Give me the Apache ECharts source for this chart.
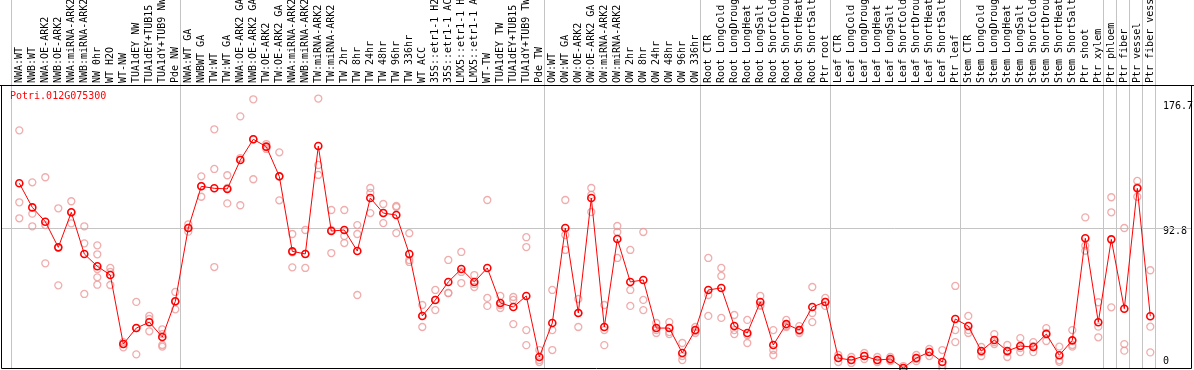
<!DOCTYPE html>
<html><head><meta charset="utf-8">
<script src="https://cdn.jsdelivr.net/npm/echarts@6/dist/echarts.min.js"></script>
<style>html,body{margin:0;padding:0;background:#fff}#c{width:1194px;height:370px}</style>
</head><body><div id="c"></div>
<script>
const geneTitle = 'Potri.012G075300';
const categories = [
 'NWA:WT','NWB:WT','NWA:OE-ARK2','NWB:OE-ARK2','NWA:miRNA-ARK2','NWB:miRNA-ARK2','NW 0hr','WT H2O','WT-NW','TUA1dEY NW','TUA1dEY+TUB15 NW','TUA1dY+TUB9 NW','Pde NW',
 'NWA:WT GA','NWBWT GA','TW:WT','TW:WT GA','NWA:OE-ARK2 GA','NWB:OE-ARK2 GA','TW:OE-ARK2','TW:OE-ARK2 GA','NWA:miRNA-ARK2 GA','NWB:miRNA-ARK2 GA','TW:miRNA-ARK2','TW:miRNA-ARK2 GA',
 'TW 2hr','TW 8hr','TW 24hr','TW 48hr','TW 96hr','TW 336hr','WT ACC','35S::etr1-1 H2O','35S::etr1-1 ACC','LMX5::etr1-1 H2O','LMX5::etr1-1 ACC','WT-TW','TUA1dEY TW','TUA1dEY+TUB15 TW','TUA1dY+TUB9 TW','Pde TW',
 'OW:WT','OW:WT GA','OW:OE-ARK2','OW:OE-ARK2 GA','OW:miRNA-ARK2','OW:miRNA-ARK2 GA','OW 2hr','OW 8hr','OW 24hr','OW 48hr','OW 96hr','OW 336hr',
 'Root CTR','Root LongCold','Root LongDrought','Root LongHeat','Root LongSalt','Root ShortCold','Root ShortDrought','Root ShortHeat','Root ShortSalt','Ptr root',
 'Leaf CTR','Leaf LongCold','Leaf LongDrought','Leaf LongHeat','Leaf LongSalt','Leaf ShortCold','Leaf ShortDrought','Leaf ShortHeat','Leaf ShortSalt','Ptr leaf',
 'Stem CTR','Stem LongCold','Stem LongDrought','Stem LongHeat','Stem LongSalt','Stem ShortCold','Stem ShortDrought','Stem ShortHeat','Stem ShortSalt','Ptr shoot',
 'Ptr xylem','Ptr phloem','Ptr fiber','Ptr vessel','Ptr fiber vessel'
];
const means = [
 121.6,105.9,96.6,79.9,102.7,75.6,67.6,61.9,17.0,27.4,31.2,21.6,44.8,
 92.5,119.6,118.3,117.9,136.7,150.2,145.4,126.1,77.3,75.6,145.8,90.5,91.2,77.5,112.0,102.2,100.9,75.6,35.3,45.7,57.4,65.8,57.4,66.5,43.7,41.1,48.3,8.6,
 30.7,92.5,37.2,112.0,28.1,85.3,57.4,58.7,27.4,27.4,11.2,26.1,
 52.2,53.5,28.7,24.2,44.4,16.4,30.0,26.1,41.1,44.4,
 7.9,6.6,9.2,6.6,7.3,1.4,7.9,11.8,5.3,33.3,
 28.7,12.5,19.6,12.5,15.7,15.1,23.5,9.7,19.4,85.8,
 31.2,85.1,40.0,118.3,35.1
];
const replicates = [
 [156.0,109.2,98.8],[122.2,101.8,93.6],[125.5,94.4,69.5],[105.3,79.9,55.2],[109.9,102.7,95.5],[93.6,82.5,49.6],
 [81.2,75.4,65.8,60.4,55.6],[66.5,63.9,55.4],[18.3,17.0,14.9],[44.4,27.4,10.3],[35.3,33.3,25.3],[26.6,23.5,16.4,15.3],[50.9,44.4,39.6],
 [94.9,92.5,90.1],[126.1,119.8,112.8],[156.7,130.9,67.1],[126.8,118.5,108.5],[165.1,138.0,107.3],[176.2,150.2,124.2],[147.1,145.0,143.9],
 [141.7,126.1,110.5],[88.6,76.6,66.9],[91.2,75.6,66.5],[176.7,133.5,127.0],[104.2,91.2,76.2],[104.2,87.3,82.7],[94.4,88.6,48.9],
 [118.5,115.3,102.2],[108.1,102.2,95.7],[106.8,106.1,89.2],[89.1,71.7,70.4],[42.4,35.3,28.1],[52.2,45.7,39.1],[71.7,50.2,50.2],
 [76.9,63.9,56.7],[61.9,56.1,54.1],[110.7,47.0,41.8],[48.3,42.4,40.4],[47.6,45.7,30.0],[86.5,80.1,26.1,16.3],[13.1,6.6,5.3],
 [52.2,26.1,13.1],[110.7,87.9,78.2],[46.3,37.2,28.1],[118.5,114.0,102.9],[42.4,26.1,16.3],[93.8,89.9,73.0],[78.2,52.2,41.8],
 [89.9,45.7,39.1],[30.7,26.1,24.2],[31.3,24.8,23.5],[17.7,9.2,6.6],[28.1,25.5,24.2],
 [73.0,48.9,35.3],[66.5,61.3,34.0],[35.9,26.1,23.5],[32.7,22.9,17.7],[48.3,42.4,41.8],[26.1,13.1,9.9],[32.7,28.7,28.1],
 [28.7,25.5,24.2],[54.1,37.2,31.3],[47.0,44.4,41.8],
 [9.9,7.9,5.3],[8.6,6.6,4.7],[11.2,9.2,7.3],[8.6,6.6,5.3],[8.6,6.6,5.9],[2.7,1.4,0.1],[9.9,7.3,5.9],[13.8,11.8,9.2],[13.1,3.4,1.4],[54.8,26.1,18.3],
 [35.3,26.1,24.2],[15.1,11.8,9.2],[23.5,18.3,17.0],[16.4,11.8,8.6],[20.9,14.4,11.8],[18.3,15.7,11.8],[27.4,24.2,19.0],[15.3,6.6,5.5],[26.1,16.4,15.3],[99.4,81.0,77.7],
 [44.2,28.3,21.4],[112.5,102.7,40.9],[92.5,17.0,12.7],[123.1,119.0,112.8],[65.0,28.3,11.6]
];
const yTickLabels = [0, 92.8, 176.7];
const gridValues = [92.8];
const groupBreaks = [0, 13, 41, 53, 63, 73, 84, 85, 86, 87, 88];

const Y_MAX = 185.5;
const FONT = 'DejaVu Sans Mono';
const repData = [];
replicates.forEach((arr, i) => arr.forEach(v => repData.push([i, v])));

const chart = echarts.init(document.getElementById('c'), null, {renderer: 'canvas'});
chart.setOption({
  animation: false,
  backgroundColor: '#fff',
  title: {
    text: geneTitle, left: 10, top: 91, padding: 0,
    textStyle: {color: '#ff0000', fontSize: 10, fontFamily: FONT, fontWeight: 'normal'}
  },
  grid: [
    {left: 1, right: 2, top: 85, height: 285.2, containLabel: false, outerBoundsMode: 'none'},
    {left: 12.8, right: 37.2, top: 85, height: 285.2, containLabel: false, outerBoundsMode: 'none'}
  ],
  xAxis: [
    {type: 'value', gridIndex: 0, min: 0, max: 1, show: false},
    {type: 'category', gridIndex: 1, position: 'top', data: categories,
     axisLine: {show: false}, axisTick: {show: false}, splitLine: {show: false},
     axisLabel: {interval: 0, rotate: 90, margin: 2, fontSize: 10, fontFamily: FONT, color: '#000'}}
  ],
  yAxis: [
    {type: 'value', gridIndex: 0, min: 0, max: Y_MAX, position: 'right',
     axisLine: {show: false}, axisTick: {show: false}, splitLine: {show: false},
     axisLabel: {
       customValues: yTickLabels, inside: true, margin: 29, align: 'left', verticalAlign: 'middle',
       fontSize: 10, fontFamily: FONT, color: '#000',
       formatter: v => {
         const key = v === 0 ? 'z' : (v === 92.8 ? 'm' : 't');
         return '{' + key + '|' + v + '}';
       },
       rich: {
         z: {fontSize: 10, fontFamily: FONT, color: '#000', padding: [0, 0, 17, 0]},
         m: {fontSize: 10, fontFamily: FONT, color: '#000', padding: [8, 0, 0, 0]},
         t: {fontSize: 10, fontFamily: FONT, color: '#000', padding: [16, 0, 0, 0]}
       }
     }},
    {type: 'value', gridIndex: 1, min: 0, max: Y_MAX, show: false}
  ],
  series: [
    {
      type: 'custom', xAxisIndex: 0, yAxisIndex: 0, z: 1, silent: true,
      data: gridValues.map(v => [0, v]),
      renderItem(params, api) {
        const y = Math.round(api.coord([0, api.value(1)])[1]) + 0.5;
        const cs = params.coordSys;
        return {type: 'line', shape: {x1: cs.x, y1: y, x2: cs.x + cs.width, y2: y},
                style: {stroke: '#c4c4c4', lineWidth: 1}};
      }
    },
    {
      type: 'custom', xAxisIndex: 1, yAxisIndex: 1, z: 1, silent: true, clip: false,
      data: groupBreaks.map(k => [k]),
      renderItem(params, api) {
        const k = api.value(0);
        const x0 = api.coord([0, 0])[0];
        const band = api.size([1, 0])[0];
        const x = Math.round(x0 + (k - 1) * band + 0.38 * band) + 0.5;
        return {type: 'line', shape: {x1: x, y1: 0, x2: x, y2: 368},
                style: {stroke: '#c4c4c4', lineWidth: 1}};
      }
    },
    {
      type: 'scatter', xAxisIndex: 1, yAxisIndex: 1, z: 2, silent: true,
      data: repData, symbol: 'circle', symbolSize: 7,
      itemStyle: {color: 'rgba(0,0,0,0)', borderColor: '#ec9898', borderWidth: 1.3}
    },
    {
      type: 'line', xAxisIndex: 1, yAxisIndex: 1, z: 3, silent: true,
      data: means, symbol: 'circle', symbolSize: 7, showSymbol: true,
      lineStyle: {color: '#ff0000', width: 1},
      itemStyle: {color: 'rgba(0,0,0,0)', borderColor: '#ff0000', borderWidth: 1.6}
    }
  ],
  graphic: [
    {type: 'rect', z: 100, silent: true, shape: {x: 1.5, y: 85.5, width: 1190, height: 283},
     style: {fill: 'none', stroke: '#000', lineWidth: 1}},
    {type: 'line', z: 100, silent: true, shape: {x1: 0, y1: 85.5, x2: 1194, y2: 85.5},
     style: {stroke: '#000', lineWidth: 1}}
  ]
});
</script>
</body></html>
